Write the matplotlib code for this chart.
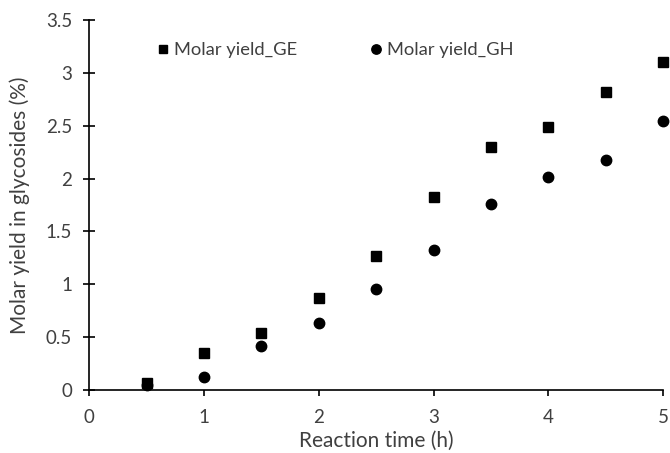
import matplotlib
matplotlib.use("Agg")
import matplotlib.pyplot as plt

time_h = [0.5, 1.0, 1.5, 2.0, 2.5, 3.0, 3.5, 4.0, 4.5, 5.0]
yield_ge = [0.07, 0.35, 0.54, 0.87, 1.27, 1.83, 2.30, 2.49, 2.82, 3.10]
yield_gh = [0.05, 0.12, 0.42, 0.63, 0.96, 1.32, 1.76, 2.01, 2.18, 2.54]
x_ticks = [0, 1, 2, 3, 4, 5]
y_ticks = [0, 0.5, 1, 1.5, 2, 2.5, 3, 3.5]
y_tick_labels = ["0", "0.5", "1", "1.5", "2", "2.5", "3", "3.5"]

plt.rcParams['font.family'] = ['Lato', 'DejaVu Sans']
txt = '#404040'

fig = plt.figure(figsize=(6.7, 4.53), dpi=100)
ax = fig.add_axes([0.133, 0.139, 0.857, 0.817])

ax.plot(time_h, yield_gh, 'o', color='black', markersize=7.5, label='Molar yield_GH', clip_on=False, zorder=3)
ax.plot(time_h, yield_ge, 's', color='black', markersize=7, label='Molar yield_GE', clip_on=False, zorder=4)

ax.set_xlim(0, 5)
ax.set_ylim(0, 3.5)
ax.set_xticks(x_ticks)
ax.set_yticks(y_ticks)
ax.set_yticklabels(y_tick_labels)
for s in ['top', 'right']:
    ax.spines[s].set_visible(False)
for s in ['left', 'bottom']:
    ax.spines[s].set_linewidth(1.2)
ax.tick_params(axis='y', direction='inout', length=8.5, width=1.2, labelsize=13.5, labelcolor=txt, pad=8)
ax.tick_params(axis='x', direction='out', length=4, width=1.2, labelsize=13.5, labelcolor=txt, pad=10)

ax.set_xlabel('Reaction time (h)', fontsize=15, color=txt, labelpad=3)
ax.set_ylabel('Molar yield in glycosides (%)', fontsize=15, color=txt, labelpad=11)

h, l = ax.get_legend_handles_labels()
leg = ax.legend([h[1], h[0]], [l[1], l[0]], ncol=2, frameon=False, loc='upper left',
                bbox_to_anchor=(0.09, 0.985), fontsize=13.2, handlelength=0.6, handletextpad=0.3,
                columnspacing=4.0, markerscale=0.9)
for t in leg.get_texts():
    t.set_color(txt)

fig.savefig('out.png', dpi=100)
